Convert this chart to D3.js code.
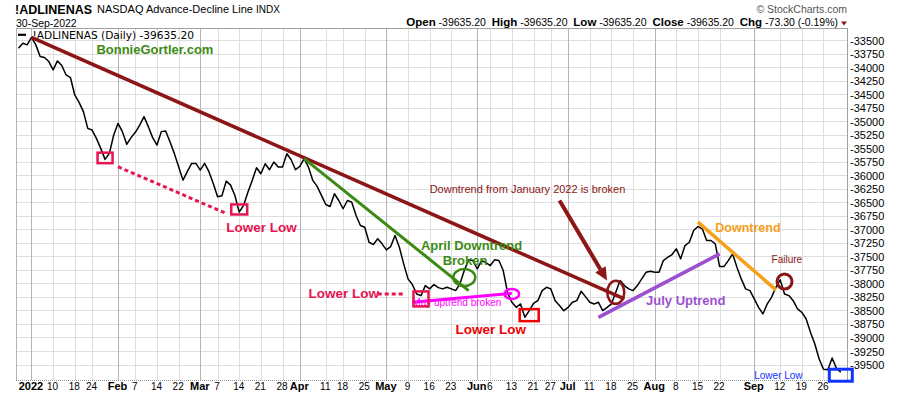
<!DOCTYPE html>
<html>
<head>
<meta charset="utf-8">
<script src="https://cdn.jsdelivr.net/npm/d3@7"></script>
<style>
  body { margin: 0; background: #fff; }
  svg { display: block; }
  text { font-family: "Liberation Sans", Arial, sans-serif; }
</style>
</head>
<body>
<svg id="chart" width="900" height="396"></svg>
<script>
// trading days shown on the chart
const dates = [
  '2021-12-29','2021-12-30','2021-12-31',
  '2022-01-03','2022-01-04','2022-01-05','2022-01-06','2022-01-07','2022-01-10','2022-01-11','2022-01-12','2022-01-13','2022-01-14',
  '2022-01-18','2022-01-19','2022-01-20','2022-01-21','2022-01-24','2022-01-25','2022-01-26','2022-01-27','2022-01-28','2022-01-31',
  '2022-02-01','2022-02-02','2022-02-03','2022-02-04','2022-02-07','2022-02-08','2022-02-09','2022-02-10','2022-02-11',
  '2022-02-14','2022-02-15','2022-02-16','2022-02-17','2022-02-18','2022-02-22','2022-02-23','2022-02-24','2022-02-25','2022-02-28',
  '2022-03-01','2022-03-02','2022-03-03','2022-03-04','2022-03-07','2022-03-08','2022-03-09','2022-03-10','2022-03-11',
  '2022-03-14','2022-03-15','2022-03-16','2022-03-17','2022-03-18','2022-03-21','2022-03-22','2022-03-23','2022-03-24','2022-03-25',
  '2022-03-28','2022-03-29','2022-03-30','2022-03-31','2022-04-01',
  '2022-04-04','2022-04-05','2022-04-06','2022-04-07','2022-04-08','2022-04-11','2022-04-12','2022-04-13','2022-04-14',
  '2022-04-18','2022-04-19','2022-04-20','2022-04-21','2022-04-22','2022-04-25','2022-04-26','2022-04-27','2022-04-28','2022-04-29',
  '2022-05-02','2022-05-03','2022-05-04','2022-05-05','2022-05-06','2022-05-09','2022-05-10','2022-05-11','2022-05-12','2022-05-13',
  '2022-05-16','2022-05-17','2022-05-18','2022-05-19','2022-05-20','2022-05-23','2022-05-24','2022-05-25','2022-05-26','2022-05-27',
  '2022-05-31','2022-06-01','2022-06-02','2022-06-03','2022-06-06','2022-06-07','2022-06-08','2022-06-09','2022-06-10',
  '2022-06-13','2022-06-14','2022-06-15','2022-06-16','2022-06-17','2022-06-21','2022-06-22','2022-06-23','2022-06-24',
  '2022-06-27','2022-06-28','2022-06-29','2022-06-30','2022-07-01','2022-07-05','2022-07-06','2022-07-07','2022-07-08',
  '2022-07-11','2022-07-12','2022-07-13','2022-07-14','2022-07-15','2022-07-18','2022-07-19','2022-07-20','2022-07-21','2022-07-22',
  '2022-07-25','2022-07-26','2022-07-27','2022-07-28','2022-07-29','2022-08-01','2022-08-02','2022-08-03','2022-08-04','2022-08-05',
  '2022-08-08','2022-08-09','2022-08-10','2022-08-11','2022-08-12','2022-08-15','2022-08-16','2022-08-17','2022-08-18','2022-08-19',
  '2022-08-22','2022-08-23','2022-08-24','2022-08-25','2022-08-26','2022-08-29','2022-08-30','2022-08-31','2022-09-01','2022-09-02',
  '2022-09-06','2022-09-07','2022-09-08','2022-09-09','2022-09-12','2022-09-13','2022-09-14','2022-09-15','2022-09-16',
  '2022-09-19','2022-09-20','2022-09-21','2022-09-22','2022-09-23','2022-09-26','2022-09-27','2022-09-28','2022-09-29','2022-09-30'
];

// !ADLINENAS close, one per trading day
const values = [
  -33643, -33550, -33581,
  -33444, -33581, -33796, -33815, -33889, -34044, -33878, -33963, -34137, -34185,
  -34507, -34643, -34815, -35124, -35156, -35309, -35495, -35698, -35587, -35248,
  -35032, -35185, -35420, -35296, -35198, -35063, -34908, -35093, -35296,
  -35433, -35185, -35174, -35371, -35587, -35834, -36082, -35926, -35772, -35772,
  -35896, -35772, -35926, -36143, -36389, -36371, -36100, -36174, -36365,
  -36674, -36550, -36304, -36087, -35852, -35963, -35778, -35889, -35748, -35841,
  -35841, -35593, -35704, -35889, -35828,
  -35685, -35841, -36087, -36198, -36365, -36532, -36569, -36334, -36458,
  -36611, -36458, -36489, -36735, -36921, -36952, -37230, -37273, -37167, -37260,
  -37371, -37310, -37106, -37322, -37630, -37908, -38013, -38186, -38217, -38032,
  -38093, -38013, -38069, -38093, -38063, -38093, -38124, -38000, -37754, -37556,
  -37569, -37723, -37569, -37606, -37661, -37556, -37569, -37754, -38161,
  -38341, -38434, -38371, -38619, -38495, -38360, -38310, -38124, -38063,
  -38093, -38310, -38402, -38495, -38434, -38341, -38310, -38137, -38236,
  -38341, -38371, -38341, -38495, -38434, -38371, -38156, -37939, -38032, -38093,
  -38124, -38032, -37908, -37786, -37767, -37786, -37786, -37569, -37508, -37458,
  -37352, -37537, -37291, -37230, -37013, -36939, -36982, -37198, -37198, -37260,
  -37680, -37680, -37569, -37445, -37693, -37908, -38093, -38124, -38278, -38434,
  -38556, -38371, -38248, -38063, -37926, -38186, -38217, -38310, -38463,
  -38526, -38649, -38897, -39112, -39389, -39580, -39590, -39371, -39562, -39635.2
];

const tickDates = ['2022-01-03','2022-01-10','2022-01-18','2022-01-24','2022-02-01','2022-02-07','2022-02-14','2022-02-22',
  '2022-03-01','2022-03-07','2022-03-14','2022-03-21','2022-03-28','2022-04-01','2022-04-11','2022-04-18','2022-04-25',
  '2022-05-02','2022-05-09','2022-05-16','2022-05-23','2022-06-01','2022-06-06','2022-06-13','2022-06-21','2022-06-27',
  '2022-07-01','2022-07-11','2022-07-18','2022-07-25','2022-08-01','2022-08-08','2022-08-15','2022-08-22',
  '2022-09-01','2022-09-12','2022-09-19','2022-09-26'];
const tickLabels = ['2022','10','18','24','Feb','7','14','22','Mar','7','14','21','28','Apr','11','18','25',
  'May','9','16','23','Jun','6','13','21','27','Jul','11','18','25','Aug','8','15','22','Sep','12','19','26'];
const yTicks = [-33500,-33750,-34000,-34250,-34500,-34750,-35000,-35250,-35500,-35750,-36000,-36250,-36500,
  -36750,-37000,-37250,-37500,-37750,-38000,-38250,-38500,-38750,-39000,-39250,-39500];

// annotations drawn on the chart: [from date, from value, to date, to value]
const trendLines = [
  ['2022-01-03', -33444, '2022-07-21', -38278],  // January downtrend
  ['2022-04-04', -35685, '2022-05-27', -38124],  // April downtrend
  ['2022-05-10', -38341, '2022-06-13', -38174],  // May uptrend
  ['2022-07-13', -38619, '2022-08-22', -37445],  // July uptrend
  ['2022-08-15', -36859, '2022-09-09', -38111]   // August downtrend
];
const dottedLines = [
  ['2022-02-01', -35834, '2022-03-09', -36698],
  ['2022-04-28', -38186, '2022-05-06', -38186]
];
const arrowLine = ['2022-06-29', -36458, '2022-07-15', -37939];
const lowBoxes = [['2022-01-27', -35671], ['2022-03-14', -36624], ['2022-05-12', -38278], ['2022-06-17', -38578], ['2022-09-30', -39689]];
const rings = [['2022-05-26', -37884], ['2022-06-13', -38186], ['2022-07-19', -38156], ['2022-09-13', -37957]];
const notes = [
  ['BonnieGortler.com', '2022-01-25', -33754],
  ['Lower Low', '2022-03-09', -37041],
  ['Lower Low', '2022-04-05', -38254],
  ['May uptrend broken', '2022-05-10', -38402],
  ['April Downtrend', '2022-05-12', -37374],
  ['Broken', '2022-05-19', -37660],
  ['Lower Low', '2022-05-24', -38921],
  ['Downtrend from January 2022 is broken', '2022-05-16', -36319],
  ['July Uptrend', '2022-07-28', -38384],
  ['Downtrend', '2022-08-19', -37050],
  ['Failure', '2022-09-08', -37606],
  ['Lower Low', '2022-09-01', -39763]
];

const plot = { left: 16, right: 847, top: 28, bottom: 380 };
const svg = d3.select('#chart');

const x = d3.scalePoint().domain(dates).range([18.5, 840.8]);
const y = d3.scaleLinear().domain([-33500, -39500]).range([40.5, 365]);
const isMonth = (l) => isNaN(+l) || l === '2022';

const DARKRED = '#8c1515', GREEN = '#3c8a14', CRIMSON = '#e6144f', RED = '#ee0000',
  MAGENTA = '#ff00ff', PURPLE = '#9b4fd1', ORANGE = '#f5a01a', BLUE = '#1133ff';

// grid
const grid = svg.append('g').attr('class', 'grid');
grid.selectAll('.hgrid').data(yTicks).enter().append('line')
  .attr('x1', plot.left).attr('x2', plot.right)
  .attr('y1', d => y(d)).attr('y2', d => y(d))
  .attr('stroke', '#dedede').attr('stroke-width', 1).attr('shape-rendering', 'crispEdges');
grid.selectAll('.vgrid').data(tickDates).enter().append('line')
  .attr('x1', d => Math.round(x(d)) + 0.5).attr('x2', d => Math.round(x(d)) + 0.5)
  .attr('y1', plot.top).attr('y2', plot.bottom)
  .attr('stroke', (d, i) => isMonth(tickLabels[i]) ? '#b4b4b4' : '#dedede').attr('stroke-width', 1);

// frame
svg.append('line').attr('x1', plot.left + 0.5).attr('x2', plot.left + 0.5).attr('y1', plot.top).attr('y2', plot.bottom)
  .attr('stroke', '#b4b4b4');
svg.append('line').attr('x1', plot.left).attr('x2', plot.right).attr('y1', plot.top + 0.5).attr('y2', plot.top + 0.5)
  .attr('stroke', '#a0a0a0');
svg.append('line').attr('x1', plot.right + 0.5).attr('x2', plot.right + 0.5).attr('y1', plot.top).attr('y2', plot.bottom)
  .attr('stroke', '#a0a0a0');
svg.append('line').attr('x1', plot.left).attr('x2', plot.right).attr('y1', plot.bottom + 0.5).attr('y2', plot.bottom + 0.5)
  .attr('stroke', '#999').attr('stroke-dasharray', '1,1');

// axes
const yAxis = svg.append('g').attr('transform', `translate(${plot.right},0)`)
  .call(d3.axisRight(y).tickValues(yTicks).tickSize(0).tickPadding(3).tickFormat(d => String(d)));
yAxis.select('.domain').remove();
yAxis.selectAll('text').style('font-size', '11px').style('font-family', '"Liberation Sans", Arial, sans-serif').attr('fill', '#000');

const xAxis = svg.append('g').attr('transform', `translate(-1,${plot.bottom})`)
  .call(d3.axisBottom(x).tickValues(tickDates).tickSize(0).tickPadding(2.5).tickFormat((d, i) => tickLabels[i]));
xAxis.select('.domain').remove();
xAxis.selectAll('text')
  .style('font-family', '"Liberation Sans", Arial, sans-serif')
  .style('font-size', (d, i) => isMonth(tickLabels[i]) ? '11px' : '10px')
  .style('font-weight', (d, i) => isMonth(tickLabels[i]) ? 'bold' : 'normal')
  .attr('fill', '#000');

// price line
const line = d3.line().x((d, i) => x(dates[i])).y(d => y(d));
svg.append('path').datum(values).attr('d', line)
  .attr('fill', 'none').attr('stroke', '#000').attr('stroke-width', 1.5).attr('stroke-linejoin', 'round');

// header
const hdr = svg.append('g');
hdr.append('text').attr('x', 15).attr('y', 14).style('font-size', '12.5px').style('font-weight', 'bold').text('!ADLINENAS');
hdr.append('text').attr('x', 97).attr('y', 13).style('font-size', '11px').text('NASDAQ Advance-Decline Line');
hdr.append('text').attr('x', 256).attr('y', 13).style('font-size', '10px').text('INDX');
hdr.append('text').attr('x', 16).attr('y', 26.5).style('font-size', '10.5px').text('30-Sep-2022');
hdr.append('text').attr('x', 847).attr('y', 12.5).attr('text-anchor', 'end').attr('fill', '#555')
  .style('font-size', '10.5px').text('\u00A9 StockCharts.com');
const quote = hdr.append('text').attr('x', 838).attr('y', 26).attr('text-anchor', 'end').style('font-size', '10.5px')
  .attr('xml:space', 'preserve');
[['Open', ' -39635.20  '], ['High', ' -39635.20  '], ['Low', ' -39635.20  '], ['Close', ' -39635.20  '], ['Chg', ' -73.30 (-0.19%)']]
  .forEach(([k, v]) => {
    quote.append('tspan').style('font-weight', 'bold').style('font-size', '11.5px').text(k);
    quote.append('tspan').text(v);
  });
hdr.append('path').attr('d', 'M841,21.5 L847,21.5 L844,25.5 Z').attr('fill', DARKRED);

// legend
svg.append('line').attr('x1', 18).attr('x2', 26).attr('y1', 34.8).attr('y2', 34.8).attr('stroke', '#000').attr('stroke-width', 2.2);
svg.append('text').attr('x', 32.5).attr('y', 38.5).style('font-family', '"DejaVu Sans", Verdana, sans-serif')
  .style('font-size', '10.6px').text('!ADLINENAS (Daily) -39635.20');

// annotations
const ann = svg.append('g').attr('class', 'annotations');
const lineStyles = [[DARKRED, 3.5], [GREEN, 3], [MAGENTA, 3], [PURPLE, 3.5], [ORANGE, 3.5]];
trendLines.forEach((t, i) => {
  ann.append('line').attr('x1', x(t[0])).attr('y1', y(t[1])).attr('x2', x(t[2])).attr('y2', y(t[3]))
    .attr('stroke', lineStyles[i][0]).attr('stroke-width', lineStyles[i][1]);
});
dottedLines.forEach(t => {
  ann.append('line').attr('x1', x(t[0])).attr('y1', y(t[1])).attr('x2', x(t[2])).attr('y2', y(t[3]))
    .attr('stroke', CRIMSON).attr('stroke-width', 3).attr('stroke-dasharray', '4,3');
});

// arrow pointing at the break
{
  const x0 = x(arrowLine[0]), y0 = y(arrowLine[1]), x1 = x(arrowLine[2]), y1 = y(arrowLine[3]);
  const len = Math.hypot(x1 - x0, y1 - y0), ux = (x1 - x0) / len, uy = (y1 - y0) / len;
  const head = 13, half = 6;
  const bx = x1 - ux * head, by = y1 - uy * head;
  ann.append('line').attr('x1', x0).attr('y1', y0).attr('x2', bx).attr('y2', by)
    .attr('stroke', DARKRED).attr('stroke-width', 4);
  ann.append('path')
    .attr('d', `M${x1},${y1} L${bx - uy * half},${by + ux * half} L${bx + uy * half},${by - ux * half} Z`)
    .attr('fill', DARKRED);
}

const noteStyles = [
  [GREEN, '13px', 'bold'], [CRIMSON, '13.5px', 'bold'], [CRIMSON, '13.5px', 'bold'], [MAGENTA, '10px', 'normal'],
  [GREEN, '13px', 'bold'], [GREEN, '13px', 'bold'], [RED, '13.5px', 'bold'], [DARKRED, '11px', 'normal'],
  [PURPLE, '13px', 'bold'], [ORANGE, '12.5px', 'bold'], [DARKRED, '10px', 'normal'], [BLUE, '10px', 'normal']
];
notes.forEach((n, i) => {
  ann.append('text').attr('x', x(n[1])).attr('y', y(n[2]))
    .attr('fill', noteStyles[i][0]).style('font-size', noteStyles[i][1]).style('font-weight', noteStyles[i][2])
    .text(n[0]);
});

const ringStyles = [[11, 8.5, GREEN, 2.5], [7.3, 5, MAGENTA, 2.5], [8.5, 11.5, DARKRED, 2.5], [7.5, 7.5, DARKRED, 3]];
rings.forEach((r, i) => {
  ann.append('ellipse').attr('cx', x(r[0])).attr('cy', y(r[1]))
    .attr('rx', ringStyles[i][0]).attr('ry', ringStyles[i][1])
    .attr('fill', 'none').attr('stroke', ringStyles[i][2]).attr('stroke-width', ringStyles[i][3]);
});

const boxStyles = [[15, 10.5, CRIMSON], [16, 10, CRIMSON], [15, 15, CRIMSON], [19, 12, RED], [23, 12, BLUE]];
lowBoxes.forEach((b, i) => {
  const [w, h, c] = boxStyles[i];
  ann.append('rect').attr('x', x(b[0]) - w / 2).attr('y', y(b[1]) - h / 2).attr('width', w).attr('height', h)
    .attr('fill', 'none').attr('stroke', c).attr('stroke-width', i === 4 ? 3 : 2.5);
});
</script>
</body>
</html>
